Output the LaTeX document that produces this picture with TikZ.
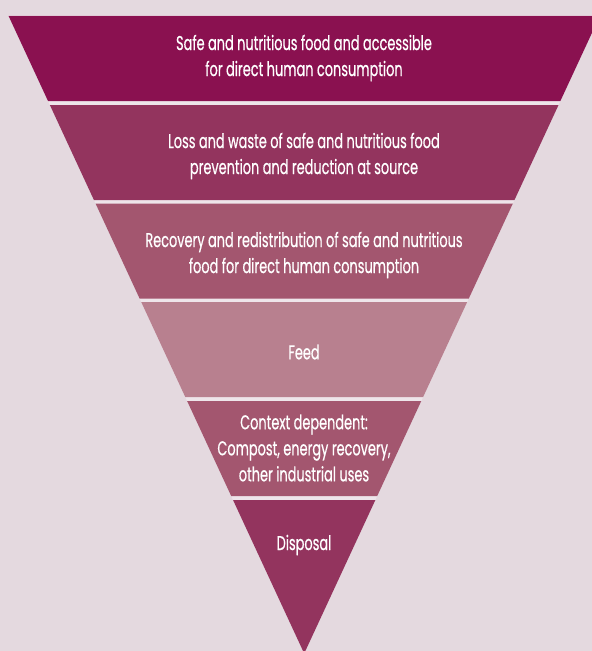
\documentclass[tikz,border=0pt]{standalone}
\usepackage{fontspec}
\setmainfont[FakeStretch=0.645, FakeBold=0.5]{Poppins}
\definecolor{bgc}{HTML}{E4D9DF}
\definecolor{gapc}{HTML}{EEE5EA}
\definecolor{bandA}{HTML}{8A1150}
\definecolor{bandB}{HTML}{93345E}
\definecolor{bandC}{HTML}{A3566F}
\definecolor{bandD}{HTML}{B8808F}
\newcommand\mycx{304.2}
\newcommand\myk{0.4637}
\newcommand\myay{653.5}
\newcommand\myband[3]{%
  \fill[#3] ({\mycx-\myk*(\myay-#1)},#1) -- ({\mycx+\myk*(\myay-#1)},#1)
    -- ({\mycx+\myk*(\myay-#2)},#2) -- ({\mycx-\myk*(\myay-#2)},#2) -- cycle;}
\tikzset{
  lbl/.style={text=white, align=center, inner sep=0pt, font=\fontsize{20}{26}\selectfont}
}
\begin{document}
\begin{tikzpicture}[x=1pt,y=-1pt]
\useasboundingbox (0,0) rectangle (592,651);
\fill[bgc] (0,0) rectangle (592,651);
\begin{scope}
\clip (0,0) rectangle (592,651);
\myband{15}{653.5}{gapc}
\myband{15.8}{101}{bandA}
\myband{105}{200}{bandB}
\myband{203.5}{298.5}{bandC}
\myband{302}{397}{bandD}
\myband{401}{496}{bandC}
\myband{500}{653.5}{bandB}
\end{scope}
\node[lbl] (t1) at (304,58) {Safe and nutritious food and accessible\\for direct human consumption};
\node[lbl] (t2) at (304,156) {Loss and waste of safe and nutritious food\\prevention and reduction at source};
\node[lbl] (t3) at (304,255) {Recovery and redistribution of safe and nutritious\\food for direct human consumption};
\node[lbl] (t4) at (304,352) {Feed};
\node[lbl] (t5) at (304,448) {Context dependent:\\Compost, energy recovery,\\other industrial uses};
\node[lbl] (t6) at (304,545) {Disposal};
\end{tikzpicture}
\end{document}
